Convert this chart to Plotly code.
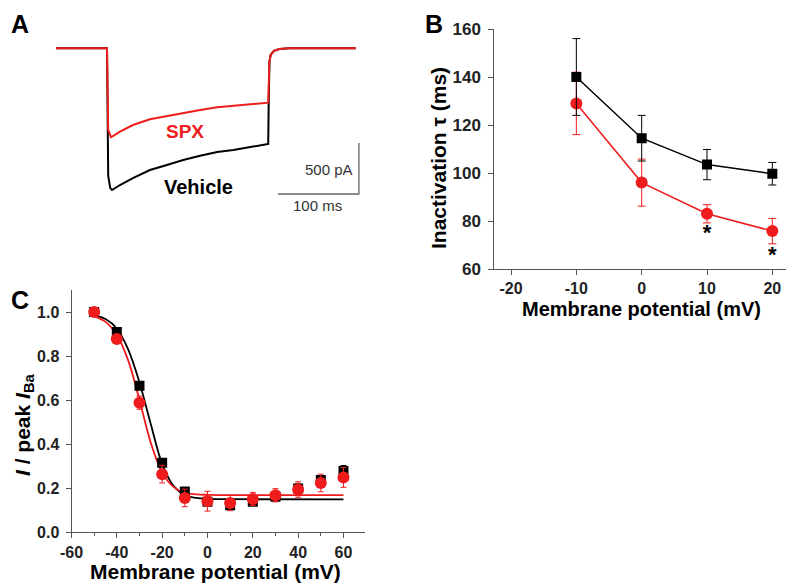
import plotly.graph_objects as go

W, H = 794, 583
RED = "#ee1c1c"
AX = "#555555"
FONT = "Arial"

# ---------------- Panel A: current traces (ms, pA) ----------------
veh_t = [-63, -2, 0, 1.5, 4, 6.2, 16, 32, 53, 74, 94, 115, 136, 156, 177, 199, 199.6, 200.5, 202, 206, 213, 225, 307]
veh_i = [0, 0, 0, -1250, -1370, -1389, -1340, -1272, -1193, -1144, -1095, -1053, -1017, -997, -971, -938, -540, -134, -66, -26, -7, 0, 0]
spx_t = [-63, -2, 0, 1.5, 5, 16, 32, 53, 74, 94, 115, 136, 156, 177, 199, 200.5, 202, 206, 213, 225, 307]
spx_i = [0, 0, 0, -800, -873, -818, -752, -696, -664, -631, -605, -578, -563, -546, -533, -134, -66, -26, -7, 0, 0]
bar_ms = 100
bar_pa = 500

# ---------------- Panel B: inactivation tau ----------------
b_v = [-10, 0, 10, 20]
b_veh = [140, 114.5, 103.5, 99.7]
b_veh_err = [16, 9.5, 6.3, 4.7]
b_spx = [129, 96, 83, 75.8]
b_spx_err = [13, 9.8, 3.8, 5.3]
b_star_v = [10, 20]
b_star_y = [74.2, 65.4]
b_xticks = [-20, -10, 0, 10, 20]
b_xlabels = ["-20", "-10", "0", "10", "20"]
b_yticks = [60, 80, 100, 120, 140, 160]

# ---------------- Panel C: steady-state inactivation ----------------
c_v = [-50, -40, -30, -20, -10, 0, 10, 20, 30, 40, 50, 60]
c_veh = [1.0, 0.909, 0.665, 0.315, 0.184, 0.137, 0.122, 0.137, 0.160, 0.198, 0.236, 0.277]
c_veh_err = [0.01, 0.01, 0.015, 0.015, 0.015, 0.015, 0.015, 0.015, 0.015, 0.02, 0.02, 0.025]
c_spx = [1.0, 0.877, 0.588, 0.263, 0.155, 0.140, 0.132, 0.150, 0.167, 0.193, 0.223, 0.248]
c_spx_err = [0.01, 0.015, 0.03, 0.04, 0.04, 0.045, 0.035, 0.03, 0.03, 0.035, 0.04, 0.045]
fit_v = [-50, -45, -40, -35, -30, -25, -20, -15, -10, -5, 0, 10, 60]
fit_veh = [0.985, 0.968, 0.925, 0.830, 0.680, 0.490, 0.310, 0.210, 0.167, 0.155, 0.151, 0.149, 0.148]
fit_spx = [0.980, 0.955, 0.895, 0.780, 0.600, 0.405, 0.270, 0.205, 0.178, 0.171, 0.169, 0.168, 0.168]
c_xticks = [-60, -40, -20, 0, 20, 40, 60]
c_xlabels = ["-60", "-40", "-20", "0", "20", "40", "60"]
c_yticks = [0, 0.2, 0.4, 0.6, 0.8, 1.0]

# the page body adds an 8px offset to the figure
OFF = 8


def px(x):
    return (x - OFF) / W


def py(y):
    return 1 - (y - OFF) / H


fig = go.Figure()

# Panel A
fig.add_trace(go.Scatter(x=veh_t, y=veh_i, mode="lines", line=dict(color="black", width=2),
                         xaxis="x", yaxis="y", showlegend=False, hoverinfo="skip"))
fig.add_trace(go.Scatter(x=spx_t, y=spx_i, mode="lines", line=dict(color=RED, width=2),
                         xaxis="x", yaxis="y", showlegend=False, hoverinfo="skip"))
bar_x_end = 311
bar_y0 = -1428
fig.add_trace(go.Scatter(x=[bar_x_end - bar_ms, bar_x_end, bar_x_end],
                         y=[bar_y0, bar_y0, bar_y0 + bar_pa], mode="lines",
                         line=dict(color="#666666", width=1.3),
                         xaxis="x", yaxis="y", showlegend=False, hoverinfo="skip"))

# Panel B
fig.add_trace(go.Scatter(x=b_v, y=b_spx, mode="lines+markers",
                         line=dict(color=RED, width=1.5),
                         marker=dict(symbol="circle", size=12, color=RED),
                         error_y=dict(type="data", array=b_spx_err, color=RED, thickness=1, width=4),
                         xaxis="x2", yaxis="y2", showlegend=False))
fig.add_trace(go.Scatter(x=b_v, y=b_veh, mode="lines+markers",
                         line=dict(color="black", width=1.5),
                         marker=dict(symbol="square", size=10, color="black"),
                         error_y=dict(type="data", array=b_veh_err, color="black", thickness=1, width=4),
                         xaxis="x2", yaxis="y2", showlegend=False))
fig.add_trace(go.Scatter(x=b_star_v, y=b_star_y, mode="text", text=["*", "*"],
                         textfont=dict(family=FONT, size=22, color="black", weight="bold"),
                         xaxis="x2", yaxis="y2", showlegend=False, hoverinfo="skip"))

# Panel C
fig.add_trace(go.Scatter(x=fit_v, y=fit_veh, mode="lines", line=dict(color="black", width=1.8, shape="spline"),
                         xaxis="x3", yaxis="y3", showlegend=False, hoverinfo="skip"))
fig.add_trace(go.Scatter(x=fit_v, y=fit_spx, mode="lines", line=dict(color=RED, width=1.8, shape="spline"),
                         xaxis="x3", yaxis="y3", showlegend=False, hoverinfo="skip"))
fig.add_trace(go.Scatter(x=c_v, y=c_veh, mode="markers",
                         marker=dict(symbol="square", size=10, color="black"),
                         error_y=dict(type="data", array=c_veh_err, color="black", thickness=1, width=3),
                         xaxis="x3", yaxis="y3", showlegend=False))
fig.add_trace(go.Scatter(x=c_v, y=c_spx, mode="markers",
                         marker=dict(symbol="circle", size=12, color=RED),
                         error_y=dict(type="data", array=c_spx_err, color=RED, thickness=1, width=3),
                         xaxis="x3", yaxis="y3", showlegend=False))

tickfont_b = dict(family=FONT, size=17, color="#222222", weight="bold")
tickfont_bx = dict(family=FONT, size=16, color="#222222", weight="bold")
tickfont_c = dict(family=FONT, size=16, color="#222222", weight="bold")
axis_common = dict(showgrid=False, zeroline=False, showline=True, linecolor=AX, linewidth=1,
                   ticks="outside", tickcolor=AX, ticklen=5, tickwidth=1, automargin=False)

fig.update_layout(
    template="none",
    width=W, height=H,
    margin=dict(l=0, r=0, t=0, b=0, pad=0),
    paper_bgcolor="white", plot_bgcolor="rgba(0,0,0,0)",
    showlegend=False,
    xaxis=dict(domain=[px(40), px(380)], range=[-82.7, 337], visible=False, anchor="y", automargin=False),
    yaxis=dict(domain=[py(220), py(30)], range=[-1683, 179], visible=False, anchor="x", automargin=False),
    xaxis2=dict(domain=[px(494.3), px(786.7)], range=[-22.56, 22.2], anchor="y2",
                tickvals=b_xticks, ticktext=b_xlabels, ticklabelstandoff=0, tickfont=tickfont_bx,
                **axis_common),
    yaxis2=dict(domain=[py(269), py(29)], range=[60, 160], anchor="x2",
                tickvals=b_yticks, ticklabelstandoff=4, tickfont=tickfont_b, **axis_common),
    xaxis3=dict(domain=[px(71.5), px(365)], range=[-60, 69.5], anchor="y3",
                tickvals=c_xticks, ticktext=c_xlabels, ticklabelstandoff=1, tickfont=tickfont_c,
                minor=dict(ticks="outside", ticklen=3, tickcolor=AX, dtick=10, tick0=-60),
                **axis_common),
    yaxis3=dict(domain=[py(532), py(290)], range=[0, 1.1], anchor="x3",
                tickvals=c_yticks, tickformat=".1f", ticklabelstandoff=3, tickfont=tickfont_c,
                **axis_common),
)


def ann(text, x, y, size, color="black", bold=True, angle=0, xanchor="center", yanchor="middle"):
    fig.add_annotation(text=text, x=px(x), y=py(y), xref="paper", yref="paper",
                       showarrow=False, textangle=angle, xanchor=xanchor, yanchor=yanchor,
                       font=dict(family=FONT, size=size, color=color,
                                 weight="bold" if bold else "normal"))


# panel letters
ann("A", 9, 8, 25, xanchor="left", yanchor="top")
ann("B", 423, 8, 25, xanchor="left", yanchor="top")
ann("C", 9, 284, 25, xanchor="left", yanchor="top")

# panel A labels
ann("SPX", 185, 132, 19, color=RED)
ann("Vehicle", 198, 187, 20)
ann("500 pA", 355, 170, 15, color="#333333", bold=False, xanchor="right")
ann("100 ms", 317, 205, 15, color="#333333", bold=False)

# axis titles
ann("Inactivation τ (ms)", 438, 158, 21, angle=-90)
ann("Membrane potential (mV)", 641, 309, 20)
ann("<i>I</i> / peak <i>I</i><sub>Ba</sub>", 24, 425, 21, angle=-90)
ann("Membrane potential (mV)", 215, 571, 21)

fig.write_html("out.html")
